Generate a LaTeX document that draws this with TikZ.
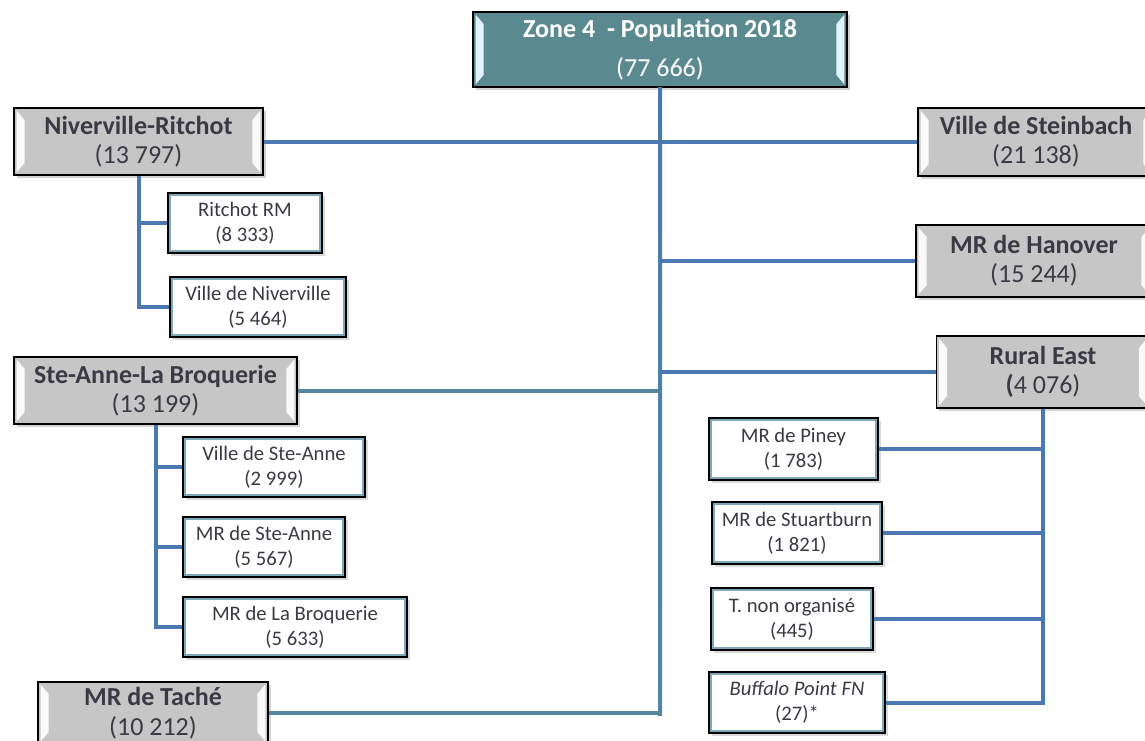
\documentclass[tikz,border=0pt]{standalone}
\usepackage{fontspec}
\setmainfont{Carlito}
\usetikzlibrary{shadows,calc}

\definecolor{boxgrey}{HTML}{C6C6C6}
\definecolor{boxtext}{HTML}{3A3A44}
\definecolor{rootteal}{HTML}{5A8990}
\definecolor{lineblue}{HTML}{4A78B2}
\definecolor{lineteal}{HTML}{50879C}
\definecolor{innerrim}{HTML}{7FA9BB}

\def\bigfont{\fontsize{19.5}{22}\selectfont}
\def\smallfont{\fontsize{15.5}{18.5}\selectfont}

\tikzset{
  sz/.style 2 args={minimum width=#1*0.75pt, minimum height=#2*0.75pt},
  bevel/.style={path picture={
    \fill[#1] ([shift={(2pt,-2pt)}]path picture bounding box.north west)
      -- ([shift={(8pt,-9pt)}]path picture bounding box.north west)
      -- ([shift={(8pt,9pt)}]path picture bounding box.south west)
      -- ([shift={(2pt,2pt)}]path picture bounding box.south west) -- cycle;
    \fill[#1] ([shift={(-2pt,-2pt)}]path picture bounding box.north east)
      -- ([shift={(-8pt,-9pt)}]path picture bounding box.north east)
      -- ([shift={(-8pt,9pt)}]path picture bounding box.south east)
      -- ([shift={(-2pt,2pt)}]path picture bounding box.south east) -- cycle;
  }},
  bigbox/.style={draw=black, line width=1.2pt, fill=boxgrey, text=boxtext,
    align=center, font=\bigfont, inner sep=0pt,
    drop shadow={opacity=.35, shadow xshift=2pt, shadow yshift=-2pt},
    bevel={white!92!boxgrey}},
  rootbox/.style={bigbox, fill=rootteal, text=white, bevel={cyan!12!white}},
  smallbox/.style={draw=black, line width=1.6pt, fill=white, text=boxtext,
    align=center, font=\smallfont, inner sep=0pt,
    drop shadow={opacity=.3, shadow xshift=2pt, shadow yshift=-2pt},
    path picture={\draw[innerrim, line width=1.4pt]
      ([shift={(1.5pt,-1.5pt)}]path picture bounding box.north west) rectangle
      ([shift={(-1.5pt,1.5pt)}]path picture bounding box.south east);}},
  conn/.style={draw=lineblue, line width=3pt},
  connteal/.style={draw=lineteal, line width=3pt},
}

\begin{document}
\begin{tikzpicture}[x=0.75pt, y=-0.75pt]
  \useasboundingbox (0,0) rectangle (1145,740);

  % main boxes
  \node[rootbox, sz={374}{75}] (zone) at (660,49.5)
    {\textbf{Zone 4\ \ - Population 2018}\\[7pt](77 666)};
  \node[bigbox, sz={249}{67}] (niv) at (138.5,141.5)
    {\textbf{Niverville-Ritchot}\\(13 797)};
  \node[bigbox, sz={283}{67}] (steanne) at (155.5,390.5)
    {\textbf{Ste-Anne-La Broquerie}\\(13 199)};
  \node[bigbox, sz={230}{62}] (tache) at (153,713)
    {\textbf{MR de Taché}\\(10 212)};
  \node[bigbox, sz={236}{68}] (stein) at (1036,142)
    {\textbf{Ville de Steinbach}\\(21 138)};
  \node[bigbox, sz={236}{72}] (hanover) at (1034,261)
    {\textbf{MR de Hanover}\\(15 244)};
  \node[bigbox, sz={213}{72}] (rural) at (1043,372)
    {\textbf{Rural East}\\\textbf{(}4 076)};

  % sub boxes
  \node[smallbox, sz={154}{60}] (ritchot) at (245,223) {Ritchot RM\\(8 333)};
  \node[smallbox, sz={176}{60}] (nivville) at (258,307) {Ville de Niverville\\(5 464)};
  \node[smallbox, sz={182}{60}] (vsteanne) at (274,467) {Ville de Ste-Anne\\(2 999)};
  \node[smallbox, sz={162}{60}] (mrsteanne) at (264,547) {MR de Ste-Anne\\(5 567)};
  \node[smallbox, sz={224}{60}] (broq) at (295,627) {MR de La Broquerie\\(5 633)};
  \node[smallbox, sz={169}{62}] (piney) at (793.5,449) {MR de Piney\\(1 783)};
  \node[smallbox, sz={170}{62}] (stuart) at (797,533) {MR de Stuartburn\\(1 821)};
  \node[smallbox, sz={162}{62}] (tno) at (792,619) {T. non organisé\\(445)};
  \node[smallbox, sz={176}{61}] (buffalo) at (797,702.5) {\textit{Buffalo Point FN}\\(27)*};

  % trunk
  \coordinate (trunkend) at (zone.south |- tache.east);
  \shade[top color=lineblue, bottom color=lineteal]
    ($(zone.south)+(-1.5pt,0)$) rectangle ($(trunkend)+(1.5pt,-1.5pt)$);

  \draw[conn] (niv.east) -- (niv.east -| zone.south);
  \draw[conn] (stein.west) -- (stein.west -| zone.south);
  \draw[conn] (hanover.west) -- (hanover.west -| zone.south);
  \draw[conn] (rural.west) -- (rural.west -| zone.south);
  \draw[connteal] (steanne.east) -- (steanne.east -| zone.south);
  \draw[connteal] (tache.east) -- (trunkend);

  % branches
  \draw[conn] (niv.south) |- (ritchot.west);
  \draw[conn] (niv.south) |- (nivville.west);
  \draw[conn] (steanne.south) |- (vsteanne.west);
  \draw[conn] (steanne.south) |- (mrsteanne.west);
  \draw[conn] (steanne.south) |- (broq.west);
  \draw[conn] (rural.south) |- (piney.east);
  \draw[conn] (rural.south) |- (stuart.east);
  \draw[conn] (rural.south) |- (tno.east);
  \draw[conn] (rural.south) |- (buffalo.east);
\end{tikzpicture}
\end{document}
